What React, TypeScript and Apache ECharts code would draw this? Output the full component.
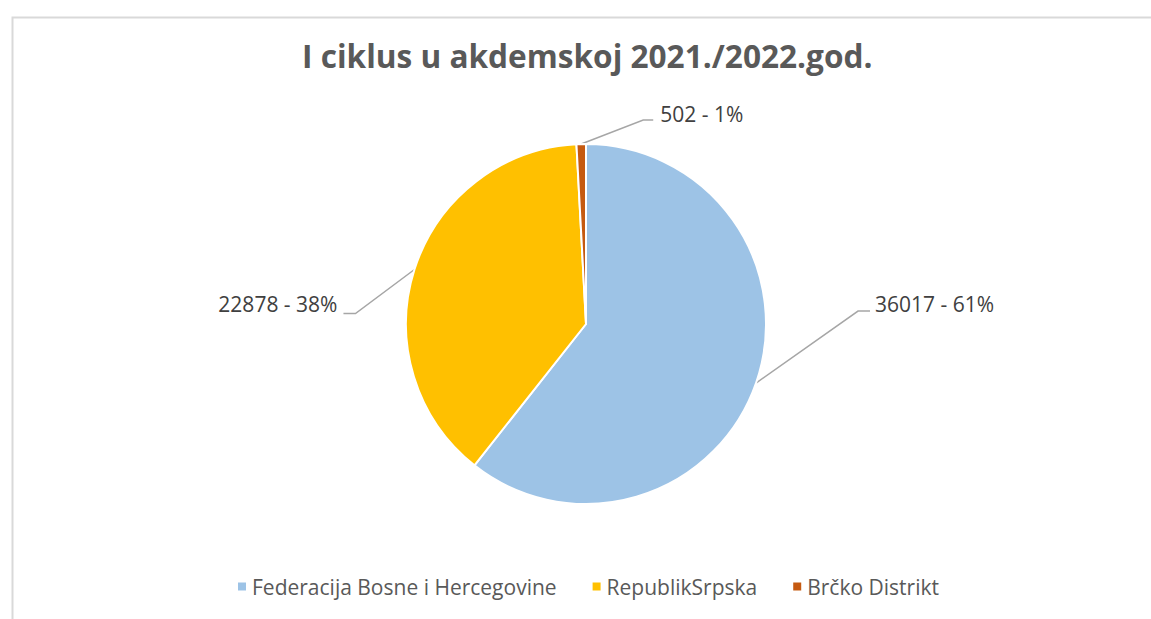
import React, { useEffect, useRef } from "react";
import * as echarts from "echarts";

const titleText = "I ciklus u akdemskoj 2021./2022.god.";
const categories = ["Federacija Bosne i Hercegovine", "RepublikSrpska", "Brčko Distrikt"];
const values = [36017, 22878, 502];
const colors = ["#9DC3E6", "#FFC000", "#C55A11"];

// label offsets relative to the slice edge point (layout only)
const labelOffsets = [
  { elbow: [102, -72], end: [114, -72], text: [119, -79], align: "left" },
  { elbow: [-59, 44], end: [-71, 44], text: [-77, 35], align: "right" },
  { elbow: [62, -24], end: [72, -24], text: [79, -30], align: "left" },
];

const CX = 586;
const CY = 324;
const R = 180;

export default function App() {
  const ref = useRef<HTMLDivElement>(null);
  useEffect(() => {
    document.body.style.margin = "0";
    const chart = echarts.init(ref.current!, undefined, { renderer: "svg" });
    const total = values.reduce((a, b) => a + b, 0);
    const edgeOf = (idx: number) => {
      let before = 0;
      for (let i = 0; i < idx; i++) before += values[i];
      const mid = ((before + values[idx] / 2) / total) * Math.PI * 2;
      return [CX + R * Math.sin(mid), CY - R * Math.cos(mid)];
    };
    chart.setOption({
      animation: false,
      backgroundColor: "#ffffff",
      title: {
        text: titleText,
        left: 302,
        top: 39,
        padding: 0,
        textStyle: {
          fontFamily: "Open Sans",
          fontWeight: "bold",
          fontSize: 31.6,
          color: "#595959",
        },
      },
      graphic: [
        {
          type: "rect",
          left: 10,
          top: 15,
          z: -10,
          shape: { width: 1300, height: 800 },
          style: { fill: "none", stroke: "#D9D9D9", lineWidth: 2 },
        },
      ],
      legend: {
        top: 571,
        left: 231,
        icon: "rect",
        itemWidth: 10,
        itemHeight: 10,
        itemGap: 34,
        textStyle: { fontFamily: "Open Sans", fontSize: 21, color: "#595959" },
        data: categories,
      },
      series: [
        {
          type: "pie",
          center: [CX, CY],
          radius: R,
          startAngle: 90,
          clockwise: true,
          percentPrecision: 0,
          itemStyle: { borderColor: "#ffffff", borderWidth: 2 },
          label: {
            show: true,
            formatter: "{c} - {d}%",
            fontFamily: "Open Sans",
            fontSize: 21,
            color: "#404040",
          },
          labelLine: {
            show: true,
            length: 20,
            length2: 10,
            lineStyle: { color: "#A6A6A6", width: 1.5 },
          },
          labelLayout: (params: any) => {
            const o = labelOffsets[params.dataIndex];
            const e =
              params.labelLinePoints && params.labelLinePoints[0]
                ? params.labelLinePoints[0]
                : edgeOf(params.dataIndex);
            return {
              x: e[0] + o.text[0],
              y: e[1] + o.text[1],
              align: o.align,
              verticalAlign: "middle",
              labelLinePoints: [
                [e[0], e[1]],
                [e[0] + o.elbow[0], e[1] + o.elbow[1]],
                [e[0] + o.end[0], e[1] + o.end[1]],
              ],
            };
          },
          data: categories.map((name, i) => ({
            name,
            value: values[i],
            itemStyle: { color: colors[i] },
          })),
        },
      ],
    });
    return () => chart.dispose();
  }, []);
  return (
    <div
      ref={ref}
      style={{ position: "absolute", left: 0, top: 0, width: 1151, height: 619 }}
    />
  );
}
